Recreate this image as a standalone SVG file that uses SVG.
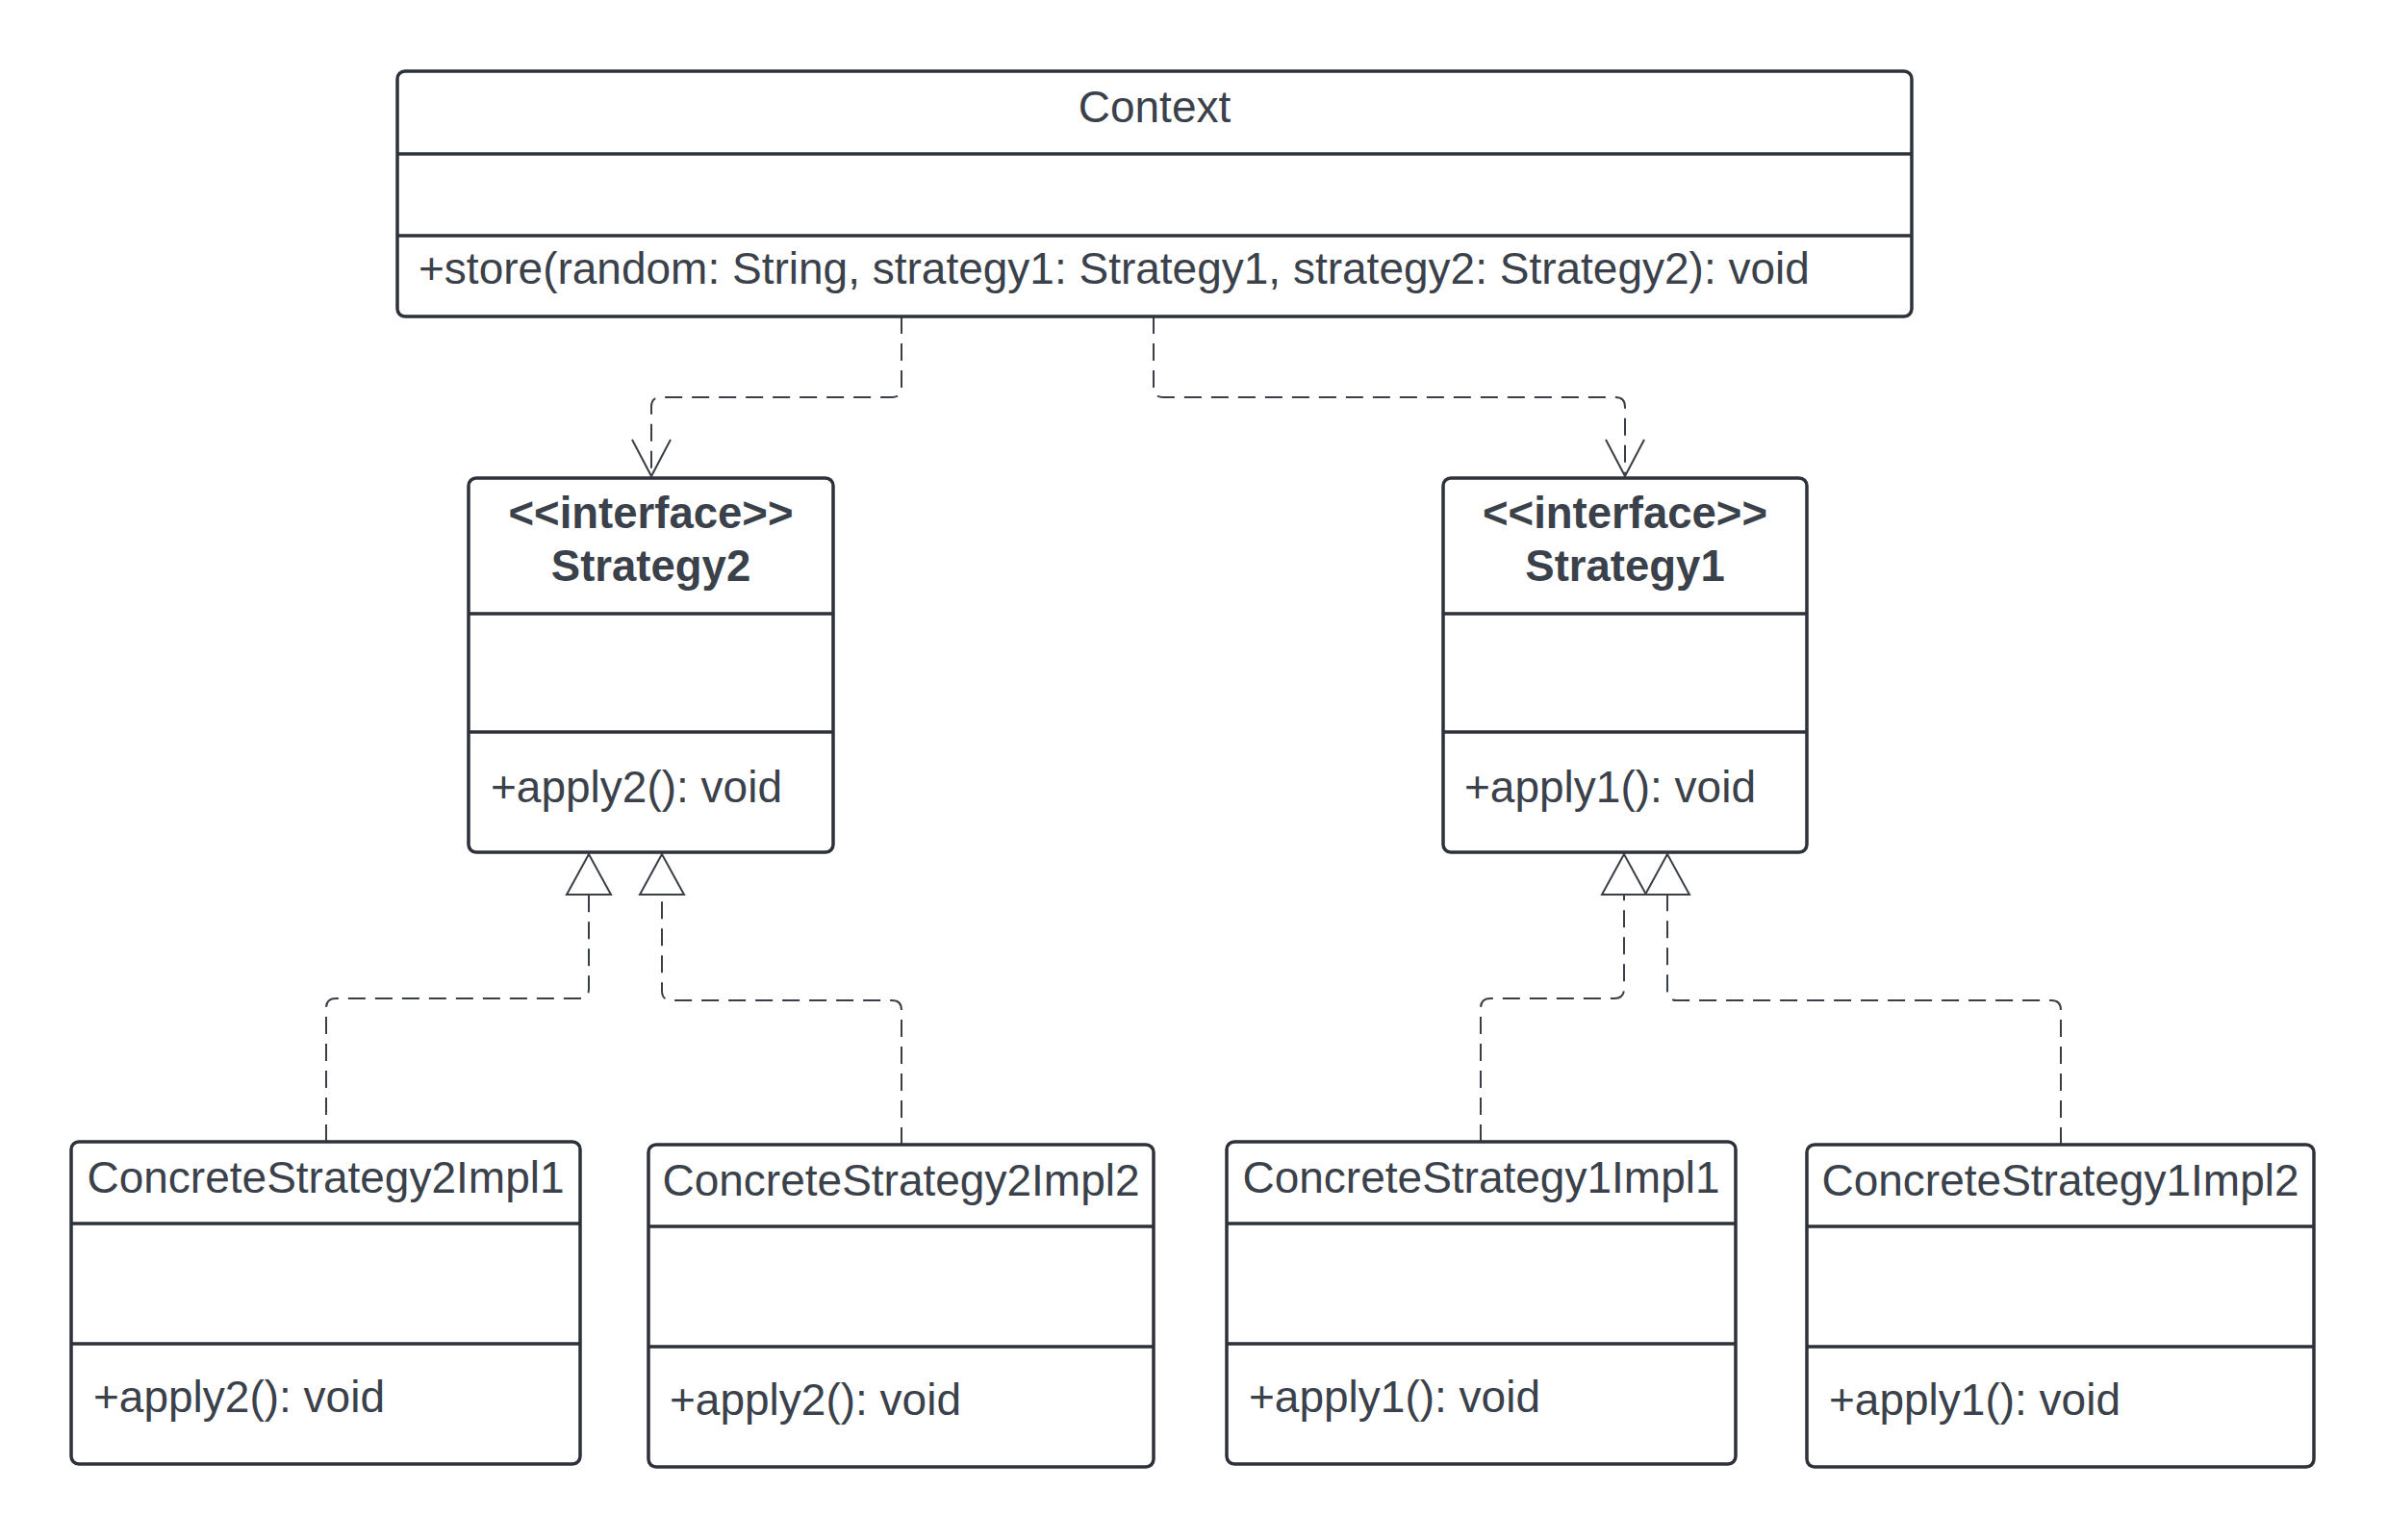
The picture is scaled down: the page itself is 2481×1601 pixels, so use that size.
<svg xmlns="http://www.w3.org/2000/svg" width="2481" height="1601" viewBox="0 0 2481 1601">
<style>
.box{fill:#fff;stroke:#2d3139;stroke-width:3.5}
.div{stroke:#2d3139;stroke-width:3.5}
.t{font-family:"Liberation Sans",Arial,sans-serif;font-size:46px;fill:#3a414a}
.b{font-weight:bold;font-size:45.5px}
.c{text-anchor:middle}
.edge{fill:none;stroke:#3a3f47;stroke-width:2;stroke-dasharray:18 10}
</style>
<defs>
<marker id="open" viewBox="-42 -24 46 48" refX="0" refY="0" markerWidth="46" markerHeight="48" markerUnits="userSpaceOnUse" orient="auto">
<path d="M-38,-20 L0,0 L-38,20" fill="none" stroke="#3a3f47" stroke-width="2" stroke-dasharray="none"/>
</marker>
<marker id="tri" viewBox="-46 -26 50 52" refX="0" refY="0" markerWidth="50" markerHeight="52" markerUnits="userSpaceOnUse" orient="auto">
<path d="M0,0 L-42,-23 L-42,23 Z" fill="#fff" stroke="#3a3f47" stroke-width="2" stroke-dasharray="none"/>
</marker>
</defs>
<rect width="2481" height="1601" fill="#fff"/>

<g id="connectors">
<path class="edge" d="M937 329 V403 Q937 413 927 413 H687 Q677 413 677 423 V495" marker-end="url(#open)"/>
<path class="edge" d="M1199 329 V403 Q1199 413 1209 413 H1679 Q1689 413 1689 423 V495" marker-end="url(#open)"/>
<path class="edge" d="M339 1187 V1048 Q339 1038 349 1038 H602 Q612 1038 612 1028 V888" marker-end="url(#tri)"/>
<path class="edge" d="M937 1190 V1050 Q937 1040 927 1040 H698 Q688 1040 688 1030 V888" marker-end="url(#tri)"/>
<path class="edge" d="M1539 1187 V1048 Q1539 1038 1549 1038 H1678 Q1688 1038 1688 1028 V888" marker-end="url(#tri)"/>
<path class="edge" d="M2142 1190 V1050 Q2142 1040 2132 1040 H1743 Q1733 1040 1733 1030 V888" marker-end="url(#tri)"/>
</g>

<g id="context">
<rect class="box" x="413" y="74" width="1574" height="255" rx="8"/>
<line class="div" x1="413" y1="160" x2="1987" y2="160"/>
<line class="div" x1="413" y1="245" x2="1987" y2="245"/>
<text class="t c" x="1200" y="127">Context</text>
<text class="t" x="435" y="295">+store(random: String, strategy1: Strategy1, strategy2: Strategy2): void</text>
</g>

<g id="strategy2">
<rect class="box" x="487" y="497" width="379" height="389" rx="8"/>
<line class="div" x1="487" y1="638" x2="866" y2="638"/>
<line class="div" x1="487" y1="761" x2="866" y2="761"/>
<text class="t b c" x="676.5" y="549">&lt;&lt;interface&gt;&gt;</text>
<text class="t b c" x="676.5" y="604">Strategy2</text>
<text class="t" x="510" y="834">+apply2(): void</text>
</g>

<g id="strategy1">
<rect class="box" x="1500" y="497" width="378" height="389" rx="8"/>
<line class="div" x1="1500" y1="638" x2="1878" y2="638"/>
<line class="div" x1="1500" y1="761" x2="1878" y2="761"/>
<text class="t b c" x="1689" y="549">&lt;&lt;interface&gt;&gt;</text>
<text class="t b c" x="1689" y="604">Strategy1</text>
<text class="t" x="1522" y="834">+apply1(): void</text>
</g>

<g id="cs2impl1">
<rect class="box" x="74" y="1187" width="529" height="335" rx="8"/>
<line class="div" x1="74" y1="1272" x2="603" y2="1272"/>
<line class="div" x1="74" y1="1397" x2="603" y2="1397"/>
<text class="t c" x="338.5" y="1240">ConcreteStrategy2Impl1</text>
<text class="t" x="97" y="1468">+apply2(): void</text>
</g>

<g id="cs2impl2">
<rect class="box" x="674" y="1190" width="525" height="335" rx="8"/>
<line class="div" x1="674" y1="1275" x2="1199" y2="1275"/>
<line class="div" x1="674" y1="1400" x2="1199" y2="1400"/>
<text class="t c" x="936.5" y="1243">ConcreteStrategy2Impl2</text>
<text class="t" x="696" y="1471">+apply2(): void</text>
</g>

<g id="cs1impl1">
<rect class="box" x="1275" y="1187" width="529" height="335" rx="8"/>
<line class="div" x1="1275" y1="1272" x2="1804" y2="1272"/>
<line class="div" x1="1275" y1="1397" x2="1804" y2="1397"/>
<text class="t c" x="1539.5" y="1240">ConcreteStrategy1Impl1</text>
<text class="t" x="1298" y="1468">+apply1(): void</text>
</g>

<g id="cs1impl2">
<rect class="box" x="1878" y="1190" width="527" height="335" rx="8"/>
<line class="div" x1="1878" y1="1275" x2="2405" y2="1275"/>
<line class="div" x1="1878" y1="1400" x2="2405" y2="1400"/>
<text class="t c" x="2141.5" y="1243">ConcreteStrategy1Impl2</text>
<text class="t" x="1901" y="1471">+apply1(): void</text>
</g>
</svg>
